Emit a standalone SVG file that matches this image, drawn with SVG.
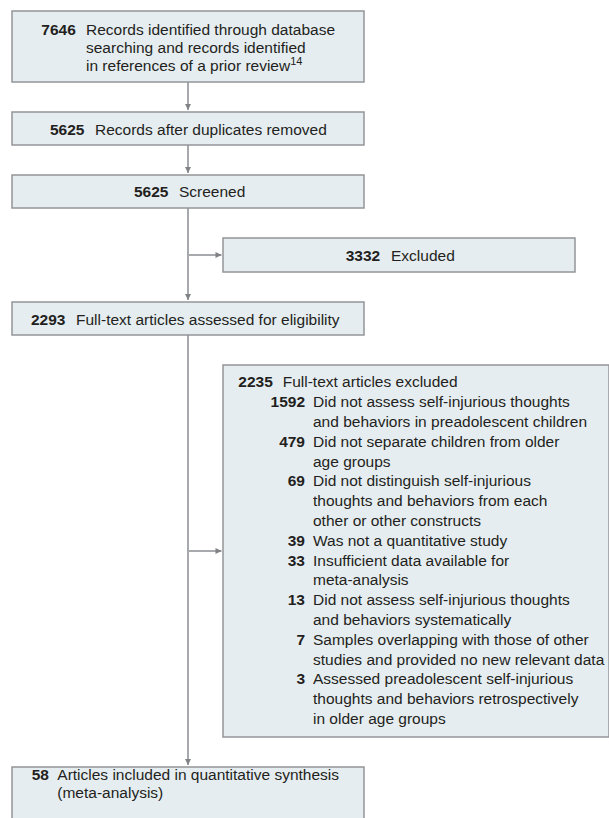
<svg xmlns="http://www.w3.org/2000/svg" width="609" height="818" viewBox="0 0 609 818">
<defs>
<style>
.box{fill:#e6edf1;stroke:#939598;stroke-width:1.5}
.t{font-family:"Liberation Sans",Arial,sans-serif;font-size:15.5px;fill:#231f20}
.b{font-weight:bold}
.n{font-weight:bold;text-anchor:end}
.c{text-anchor:middle}
.ln{fill:none;stroke:#a7a9ac;stroke-width:2}
</style>
<marker id="ah" viewBox="0 0 10 10" refX="10" refY="5" markerWidth="8" markerHeight="6" markerUnits="userSpaceOnUse" orient="auto">
<path d="M0,0 L10,5 L0,10 Z" fill="#808285"/>
</marker>
</defs>
<rect width="609" height="818" fill="#ffffff"/>

<g id="connectors">
<line class="ln" x1="188" y1="82" x2="188" y2="110" marker-end="url(#ah)"/>
<line class="ln" x1="188" y1="145" x2="188" y2="173" marker-end="url(#ah)"/>
<line class="ln" x1="188" y1="208" x2="188" y2="300" marker-end="url(#ah)"/>
<line class="ln" x1="188" y1="255" x2="221.5" y2="255" marker-end="url(#ah)"/>
<line class="ln" x1="188" y1="335" x2="188" y2="765" marker-end="url(#ah)"/>
<line class="ln" x1="188" y1="551" x2="221.5" y2="551" marker-end="url(#ah)"/>
</g>

<g id="identified">
<rect class="box" x="12" y="11" width="352" height="71"/>
<text class="t b" x="41.3" y="34.5">7646</text>
<text class="t" x="86" y="34.5">Records identified through database</text>
<text class="t" x="86" y="52.5">searching and records identified</text>
<text class="t" x="86" y="70.5">in references of a prior review<tspan font-size="11" dy="-5.5">14</tspan></text>
</g>

<g id="deduplicated">
<rect class="box" x="12" y="112" width="352" height="33"/>
<text class="t" x="50" y="134.5"><tspan class="b">5625</tspan><tspan x="95">Records after duplicates removed</tspan></text>
</g>

<g id="screened">
<rect class="box" x="12" y="175" width="352" height="33"/>
<text class="t" x="134" y="197.3"><tspan class="b">5625</tspan><tspan x="179">Screened</tspan></text>
</g>

<g id="excluded">
<rect class="box" x="223" y="238" width="352" height="34"/>
<text class="t" x="345.7" y="260.7"><tspan class="b">3332</tspan><tspan x="391">Excluded</tspan></text>
</g>

<g id="fulltext">
<rect class="box" x="12" y="302" width="352" height="33"/>
<text class="t" x="31" y="325"><tspan class="b">2293</tspan><tspan x="76">Full-text articles assessed for eligibility</tspan></text>
</g>

<g id="fulltext-excluded">
<rect class="box" x="223" y="365" width="386" height="372"/>
<text class="t b" x="238.3" y="387.3">2235</text>
<text class="t" x="282.7" y="387.3">Full-text articles excluded</text>
<text class="t n" x="305" y="407.1">1592</text>
<text class="t" x="313" y="407.1">Did not assess self-injurious thoughts</text>
<text class="t" x="313" y="426.9">and behaviors in preadolescent children</text>
<text class="t n" x="305" y="446.7">479</text>
<text class="t" x="313" y="446.7">Did not separate children from older</text>
<text class="t" x="313" y="466.5">age groups</text>
<text class="t n" x="305" y="486.3">69</text>
<text class="t" x="313" y="486.3">Did not distinguish self-injurious</text>
<text class="t" x="313" y="506.1">thoughts and behaviors from each</text>
<text class="t" x="313" y="525.9">other or other constructs</text>
<text class="t n" x="305" y="545.7">39</text>
<text class="t" x="313" y="545.7">Was not a quantitative study</text>
<text class="t n" x="305" y="565.5">33</text>
<text class="t" x="313" y="565.5">Insufficient data available for</text>
<text class="t" x="313" y="585.3">meta-analysis</text>
<text class="t n" x="305" y="605.1">13</text>
<text class="t" x="313" y="605.1">Did not assess self-injurious thoughts</text>
<text class="t" x="313" y="624.9">and behaviors systematically</text>
<text class="t n" x="305" y="644.7">7</text>
<text class="t" x="313" y="644.7">Samples overlapping with those of other</text>
<text class="t" x="313" y="664.5">studies and provided no new relevant data</text>
<text class="t n" x="305" y="684.3">3</text>
<text class="t" x="313" y="684.3">Assessed preadolescent self-injurious</text>
<text class="t" x="313" y="704.1">thoughts and behaviors retrospectively</text>
<text class="t" x="313" y="723.9">in older age groups</text>
</g>

<g id="included">
<rect class="box" x="12" y="767" width="352" height="70"/>
<text class="t b" x="31.7" y="780">58</text>
<text class="t" x="57.3" y="780">Articles included in quantitative synthesis</text>
<text class="t" x="57.3" y="798">(meta-analysis)</text>
</g>
</svg>
